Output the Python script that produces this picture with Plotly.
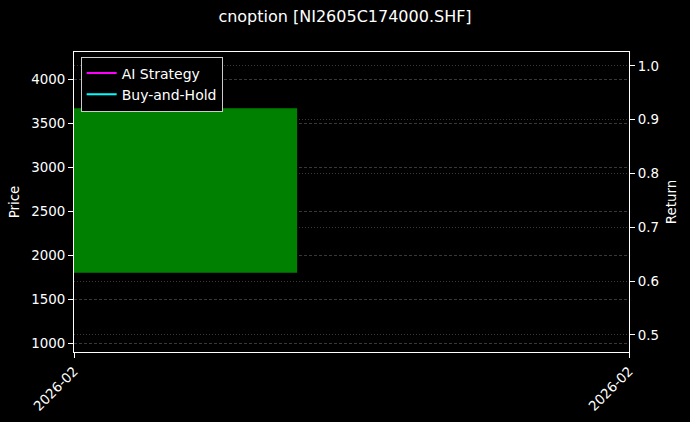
import pandas as pd
import plotly.graph_objects as go

# ---- data ----
dates = ["2026-02-10"]
opens = [1800]
closes = [3670]
ai_strategy = [0.747]
buy_and_hold = [0.747]
tick_labels = ["2026-02", "2026-02"]
title = "cnoption [NI2605C174000.SHF]"

# ---- geometry helpers ----
day_ms = 86400000
bar_w = 0.8 * day_ms
center = pd.Timestamp(dates[0])
x_left = center - pd.Timedelta(milliseconds=bar_w / 2)
x_right = x_left + pd.Timedelta(milliseconds=bar_w / 0.402)

fig = go.Figure()
fig.add_trace(go.Bar(
    x=dates, base=opens, y=[c - o for o, c in zip(opens, closes)],
    width=[bar_w], marker=dict(color="#008000", line=dict(width=0)),
    showlegend=False, hoverinfo="skip"))
fig.add_trace(go.Scatter(x=dates, y=ai_strategy, mode="lines", name="AI Strategy",
                         line=dict(color="#ff00ff", width=2), yaxis="y2"))
fig.add_trace(go.Scatter(x=dates, y=buy_and_hold, mode="lines", name="Buy-and-Hold",
                         line=dict(color="#00ffff", width=2), yaxis="y2"))

font = "DejaVu Sans"
grid_c = "rgba(255,255,255,0.22)"
fs = 13.4
fig.update_layout(
    width=690, height=422,
    paper_bgcolor="#000000", plot_bgcolor="#000000",
    font=dict(family=font, size=fs, color="#ffffff"),
    margin=dict(l=74, r=61, t=52, b=70, autoexpand=False),
    title=dict(text=title, x=0.5, xanchor="center", y=0.96, yanchor="middle",
               font=dict(size=16, color="#ffffff")),
    showlegend=True,
    legend=dict(x=0.012, y=0.985, xanchor="left", yanchor="top",
                bgcolor="#000000", bordercolor="#cccccc", borderwidth=1,
                font=dict(size=14, color="#ffffff"), tracegroupgap=0),
    xaxis=dict(type="date", range=[x_left, x_right], automargin=False,
               tickvals=[x_left, x_right], ticktext=tick_labels,
               tickangle=-45, ticks="outside", ticklen=5, tickcolor="#ffffff",
               tickfont=dict(size=fs),
               showgrid=False, zeroline=False,
               showline=True, linecolor="#ffffff", linewidth=1, mirror=True),
    yaxis=dict(range=[898, 4310], tickvals=[1000, 1500, 2000, 2500, 3000, 3500, 4000],
               automargin=False, tickfont=dict(size=fs),
               ticks="outside", ticklen=5, tickcolor="#ffffff",
               showgrid=True, gridcolor=grid_c, griddash="3px,2px", gridwidth=0.6,
               zeroline=False, showline=True, linecolor="#ffffff", linewidth=1,
               title=dict(text="Price", standoff=8, font=dict(size=fs))),
    yaxis2=dict(range=[0.468, 1.026], tickvals=[0.5, 0.6, 0.7, 0.8, 0.9, 1.0],
                tickformat=".1f", overlaying="y", side="right", automargin=False,
                tickfont=dict(size=fs),
                ticks="outside", ticklen=5, tickcolor="#ffffff",
                showgrid=True, gridcolor=grid_c, griddash="1px,2px", gridwidth=0.6,
                zeroline=False, showline=True, linecolor="#ffffff", linewidth=1,
                title=dict(text="Return", standoff=8, font=dict(size=fs))),
)

post = ("document.body.style.margin='0';document.body.style.padding='0';"
        "document.body.style.overflow='hidden';document.body.style.background='#000';")
fig.write_html("out.html", post_script=post, config={"displayModeBar": False})
